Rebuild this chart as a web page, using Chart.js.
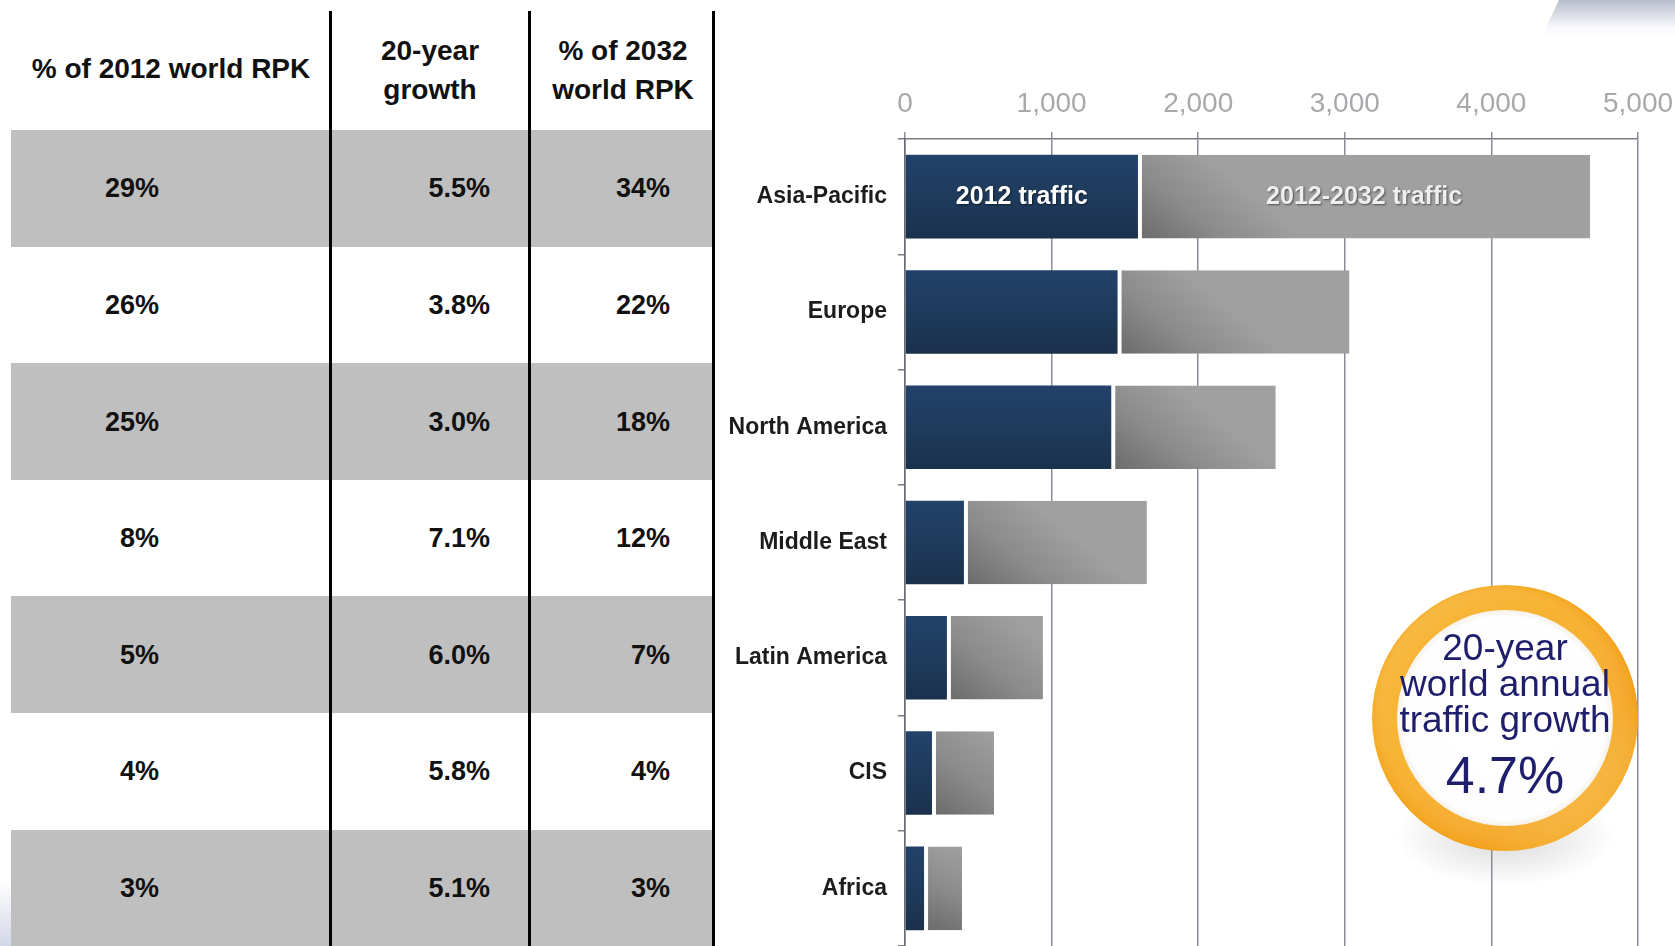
<!DOCTYPE html>
<html><head><meta charset="utf-8">
<script src="https://cdn.jsdelivr.net/npm/chart.js@4/dist/chart.umd.min.js"></script>
<style>
html,body{margin:0;padding:0;background:#fff;width:1675px;height:946px;overflow:hidden;font-family:"Liberation Sans",Arial,sans-serif;}
#tbl{position:absolute;left:0;top:0;width:715px;height:946px;}
.cell{position:absolute;background:#bfbfbf;}
.vline{position:absolute;background:#000;}
.txt{position:absolute;font-weight:bold;font-size:27px;color:#111;white-space:nowrap;line-height:1;}
.hdr{position:absolute;font-weight:bold;font-size:28px;color:#111;white-space:nowrap;line-height:39px;text-align:center;transform:translate(-50%,-50%);}
#wrap{position:absolute;left:715px;top:0;width:960px;height:946px;}
#swoosh{position:absolute;left:1540px;top:0;width:135px;height:40px;clip-path:polygon(14% 0,100% 0,100% 100%,0 100%);background:linear-gradient(to bottom,rgba(160,168,186,0.75),rgba(235,238,245,0.3) 70%,rgba(255,255,255,0));}
#corner{position:absolute;left:0;top:880px;width:11px;height:66px;background:linear-gradient(to top,rgba(200,205,225,0.8),rgba(255,255,255,0));}
</style></head><body>
<div id="tbl"></div>
<div id="swoosh"></div>
<div id="corner"></div>
<div id="wrap"><canvas id="c"></canvas></div>
<script>
// ---- data ----
const regions = ['Asia-Pacific','Europe','North America','Middle East','Latin America','CIS','Africa'];
const traffic2012 = [1589, 1450, 1407, 402, 286, 184, 130];      // billions RPK, 2012
const traffic2032 = [4674, 3032, 2529, 1650, 941, 607, 389];      // billions RPK, 2032
const segmentLabels = ['2012 traffic', '2012-2032 traffic'];
const share2012 = ['29%','26%','25%','8%','5%','4%','3%'];
const growth20y = ['5.5%','3.8%','3.0%','7.1%','6.0%','5.8%','5.1%'];
const share2032 = ['34%','22%','18%','12%','7%','4%','3%'];
const tableHeaders = [['% of 2012 world RPK'], ['20-year','growth'], ['% of 2032','world RPK']];
const xTickValues = [0, 1000, 2000, 3000, 4000, 5000];
const badgeLines = ['20-year', 'world annual', 'traffic growth'];
const badgeValue = '4.7%';

// ---- table ----
const tbl = document.getElementById('tbl');
function add(cls, css, text){ const d=document.createElement('div'); d.className=cls; Object.assign(d.style, css); if(text!==undefined) d.innerHTML=text; tbl.appendChild(d); return d; }
const colX = [[11,318],[332,196],[531,181]];
const textRight = [159, 490, 670];
const rowTop = 130, rowH = 116.6;
const cols = [share2012, growth20y, share2032];
for (let i=0;i<regions.length;i++){
  const top = rowTop + i*rowH;
  if (i%2===0) colX.forEach(([l,w])=>add('cell',{left:l+'px',top:top+'px',width:w+'px',height:rowH+'px'}));
  cols.forEach((arr,c)=>{
    add('txt',{right:(715-textRight[c])+'px',top:(top+rowH/2)+'px',transform:'translateY(-50%)'}, arr[i]);
  });
}
[[329,11],[528,11],[712,11]].forEach(([l,t])=>add('vline',{left:l+'px',top:t+'px',width:'3px',height:(946-t)+'px'}));
const hdrCenters = [[171,68],[430,70],[623,70]];
tableHeaders.forEach((lines,i)=>add('hdr',{left:hdrCenters[i][0]+'px',top:hdrCenters[i][1]+'px'}, lines.join('<br>')));

// ---- chart ----
Chart.defaults.font.family = '"Liberation Sans", Arial, sans-serif';
const BAR_PCT = 0.725;
function barBox(c){
  const ch=c.chart; const ca=ch.chartArea;
  if(!ca || c.dataIndex===undefined || !ch.scales.y) return null;
  const yc = ch.scales.y.getPixelForValue(c.dataIndex);
  const h = (ca.bottom-ca.top)/regions.length*BAR_PCT;
  return {yc, h, ca};
}
function darkFill(c){
  const b=barBox(c); if(!b) return '#1f3a5a';
  const g=c.chart.ctx.createLinearGradient(0,b.yc-b.h/2,0,b.yc+b.h/2);
  g.addColorStop(0,'#23426a'); g.addColorStop(0.5,'#1f3b5c'); g.addColorStop(1,'#1a314c');
  return g;
}
function grayFill(c){
  const b=barBox(c); if(!b || !Array.isArray(c.raw)) return '#888';
  const xs=c.chart.scales.x;
  const x0=xs.getPixelForValue(c.raw[0]), x1=xs.getPixelForValue(c.raw[1]);
  const dx=Math.min(x1-x0, b.h*0.8);
  const g=c.chart.ctx.createLinearGradient(x0,b.yc+b.h/2,x0+dx,b.yc-b.h/2);
  g.addColorStop(0,'#6a6a6a'); g.addColorStop(0.5,'#8b8b8b'); g.addColorStop(1,'#a0a0a0');
  return g;
}

const barText = {
  id:'barText',
  afterDatasetsDraw(chart){
    const ctx=chart.ctx;
    chart.data.datasets.forEach((ds,di)=>{
      const el=chart.getDatasetMeta(di).data[0];
      const p=el.getProps(['x','base','y'],true);
      ctx.save();
      ctx.font='bold 25px "Liberation Sans", Arial, sans-serif';
      ctx.textAlign='center'; ctx.textBaseline='middle';
      ctx.shadowColor='rgba(0,0,0,0.5)'; ctx.shadowBlur=2; ctx.shadowOffsetX=1; ctx.shadowOffsetY=1;
      ctx.fillStyle= di===0 ? '#ffffff' : '#eeeeee';
      ctx.fillText(ds.label,(p.x+p.base)/2,p.y);
      ctx.restore();
    });
  }
};

const badge = {
  id:'badge',
  afterDraw(chart){
    const ctx=chart.ctx, ca=chart.chartArea;
    const cx = ca.right - 133, cy = 718, R=133, r=108;
    ctx.save();
    // reflection / shadow
    const sg=ctx.createRadialGradient(cx,cy+118,5,cx,cy+118,110);
    sg.addColorStop(0,'rgba(120,120,120,0.28)'); sg.addColorStop(1,'rgba(120,120,120,0)');
    ctx.save(); ctx.translate(cx,cy+118); ctx.scale(1,0.45); ctx.translate(-cx,-(cy+118));
    ctx.fillStyle=sg; ctx.beginPath(); ctx.arc(cx,cy+118,110,0,Math.PI*2); ctx.fill(); ctx.restore();
    // ring
    const og=ctx.createLinearGradient(cx-R,cy-R,cx+R,cy+R);
    og.addColorStop(0,'#f7b63a'); og.addColorStop(0.35,'#f5a81f'); og.addColorStop(0.7,'#f3a01a'); og.addColorStop(1,'#f8c250');
    ctx.fillStyle=og; ctx.beginPath(); ctx.arc(cx,cy,R,0,Math.PI*2); ctx.fill();
    const hg=ctx.createRadialGradient(cx-40,cy-60,10,cx,cy,R);
    hg.addColorStop(0,'rgba(255,230,150,0.0)'); hg.addColorStop(0.85,'rgba(255,215,120,0.25)'); hg.addColorStop(1,'rgba(255,255,255,0)');
    ctx.fillStyle=hg; ctx.beginPath(); ctx.arc(cx,cy,R,0,Math.PI*2); ctx.fill();
    // inner white
    const ig=ctx.createRadialGradient(cx,cy,40,cx,cy,r);
    ig.addColorStop(0,'#ffffff'); ig.addColorStop(0.9,'#fefefe'); ig.addColorStop(1,'#f6f2ea');
    ctx.fillStyle=ig; ctx.beginPath(); ctx.arc(cx,cy,r,0,Math.PI*2); ctx.fill();
    // text
    ctx.fillStyle='#1e1e6c'; ctx.textAlign='center'; ctx.textBaseline='middle';
    ctx.font='37px "Liberation Sans", Arial, sans-serif';
    const ys=[650,686,722];
    badgeLines.forEach((t,i)=>ctx.fillText(t,cx,ys[i]));
    ctx.font='52px "Liberation Sans", Arial, sans-serif';
    ctx.fillText(badgeValue,cx,779);
    ctx.restore();
  }
};

new Chart(document.getElementById('c'),{
  type:'bar',
  data:{
    labels:regions,
    datasets:[
      {label:segmentLabels[0], data:traffic2012, backgroundColor:darkFill, borderWidth:0,
       grouped:false, barPercentage:BAR_PCT, categoryPercentage:1},
      {label:segmentLabels[1], data:regions.map((_,i)=>[traffic2012[i],traffic2032[i]]), backgroundColor:grayFill,
       borderColor:'#ffffff', borderWidth:{left:4,right:0,top:0,bottom:0}, borderSkipped:false,
       grouped:false, barPercentage:BAR_PCT, categoryPercentage:1}
    ]
  },
  options:{
    indexAxis:'y', responsive:true, maintainAspectRatio:false, animation:false,
    layout:{padding:{left:0,right:37,top:0,bottom:-4}},
    plugins:{legend:{display:false}, tooltip:{enabled:false}},
    scales:{
      x:{position:'top', min:0, max:5000,
         afterBuildTicks:s=>{s.ticks=xTickValues.map(v=>({value:v}));},
         ticks:{color:'#a9a9ad', font:{size:28}, padding:11, callback:v=>Number(v).toLocaleString('en-US')},
         grid:{color:'#8c8c98', lineWidth:1.5, tickLength:7},
         border:{color:'#7c7c84', width:1.5},
         afterFit:s=>{s.height=139; s.paddingLeft=0; s.paddingRight=0;}},
      y:{ticks:{color:'#1c1c1c', font:{size:23, weight:'bold'}, padding:11},
         grid:{drawOnChartArea:false, tickLength:7, color:'#7a7a7a', lineWidth:1.5},
         border:{color:'#6a6a72', width:1.5},
         afterFit:s=>{s.width=190; s.paddingTop=0; s.paddingBottom=0;}}
    }
  },
  plugins:[barText, badge]
});
</script>
</body></html>
